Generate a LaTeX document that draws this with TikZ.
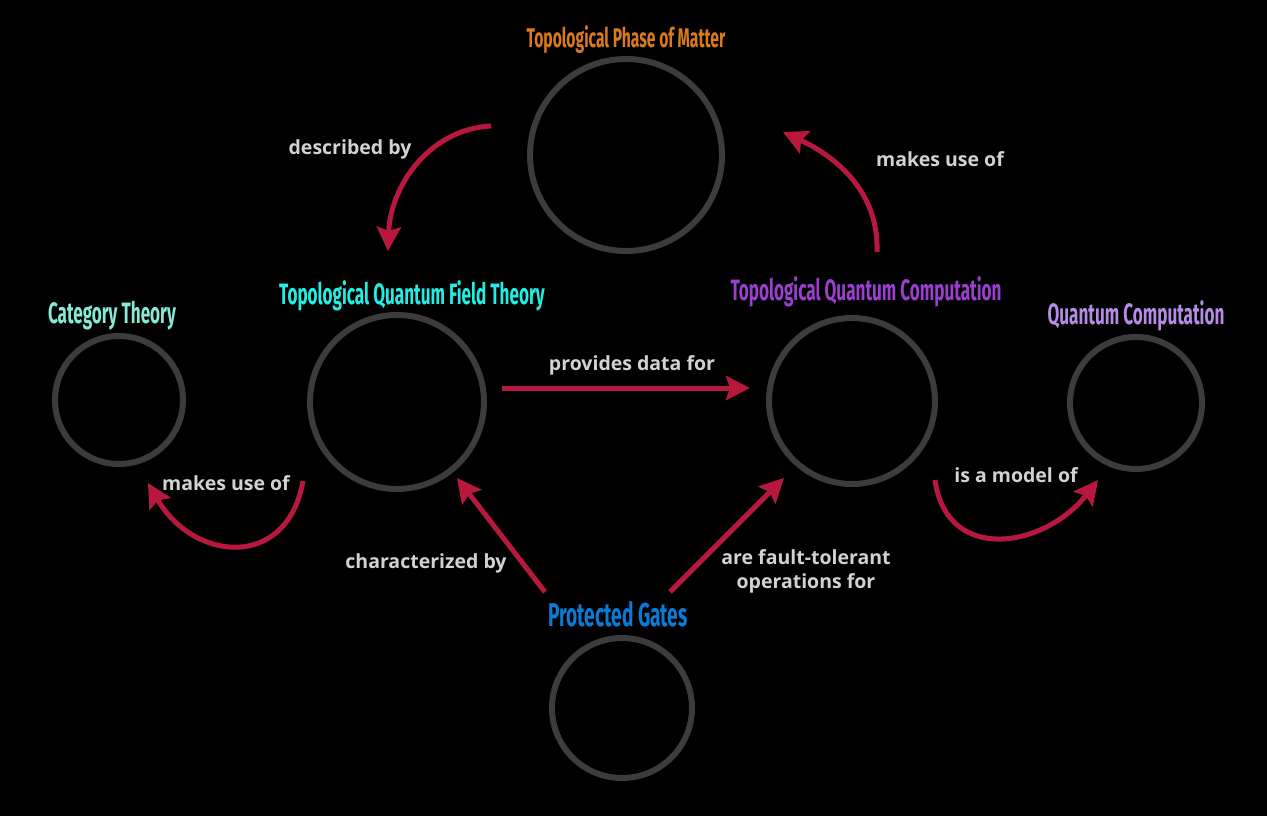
\documentclass[tikz,border=0pt]{standalone}
\usepackage{fontspec}
\setmainfont{Open Sans}
\newfontfamily\headfont{Fira Sans}[FakeStretch=0.58]
\usetikzlibrary{arrows.meta}
\definecolor{ringgray}{HTML}{3C3C3C}
\definecolor{linkred}{HTML}{B8183E}
\definecolor{labelgray}{HTML}{D2D2D2}
\definecolor{phaseorange}{HTML}{DB7A1C}
\definecolor{tqftcyan}{HTML}{22EEE4}
\definecolor{catmint}{HTML}{86EAD6}
\definecolor{tqcpurple}{HTML}{9B3FD0}
\definecolor{qcviolet}{HTML}{B68BE6}
\definecolor{gateblue}{HTML}{0A7BD6}

\begin{document}
\begin{tikzpicture}[
    x=1pt, y=-1pt,
    >={Stealth[length=24pt,width=24pt,inset=4pt]},
    ring/.style={circle, draw=ringgray, line width=6pt, inner sep=0pt, minimum size=#1},
    title/.style={font=\headfont\bfseries\fontsize{29.5}{32}\selectfont, text=#1},
    link/.style={->, draw=linkred, line width=5pt},
    linklabel/.style={font=\bfseries\fontsize{19.5}{24}\selectfont, text=labelgray, align=center}
]
    \useasboundingbox (0,0) rectangle (1267,816);
    \fill[black] (0,0) rectangle (1267,816);

    % concepts
    \node[ring=192] (phase) at (626,155) {};
    \node[ring=174] (tqft)  at (397,402) {};
    \node[ring=166] (tqc)   at (852,401) {};
    \node[ring=128] (cat)   at (119,400) {};
    \node[ring=132] (qc)    at (1136,403) {};
    \node[ring=140] (gates) at (622,708) {};

    \node[title=phaseorange, font=\headfont\bfseries\fontsize{27}{30}\selectfont]
        (phase-t) at (626,40) {Topological Phase of Matter};
    \node[title=tqftcyan]    (tqft-t)  at (412,296) {Topological Quantum Field Theory};
    \node[title=catmint]     (cat-t)   at (112,316) {Category Theory};
    \node[title=tqcpurple]   (tqc-t)   at (866,292) {Topological Quantum Computation};
    \node[title=qcviolet]    (qc-t)    at (1136,316) {Quantum Computation};
    \node[title=gateblue, font=\headfont\bfseries\fontsize{33}{36}\selectfont]
        (gates-t) at (618,614) {Protected Gates};

    % connector ends
    \coordinate (descr-s) at (491,126);
    \coordinate (descr-e) at (388,251);
    \coordinate (uses-s)  at (877,252);
    \coordinate (uses-e)  at (783,132);
    \coordinate (data-s)  at (502,388);
    \coordinate (data-e)  at (750,388);
    \coordinate (cat-s)   at (303,481);
    \coordinate (cat-e)   at (148,483);
    \coordinate (model-s) at (935,480);
    \coordinate (model-e) at (1098,480);
    \coordinate (char-s)  at (545,592);
    \coordinate (char-e)  at (457,478);
    \coordinate (ops-s)   at (670,592);
    \coordinate (ops-e)   at (784,478);

    \draw[link] (descr-s) to[out=183,in=88] (descr-e);
    \draw[link] (uses-s) to[out=88,in=-25] (uses-e);
    \draw[link] (data-s) -- (data-e);
    \draw[link] (cat-s) to[out=-100,in=-60,looseness=1.5] (cat-e);
    \draw[link] (model-s) to[out=-82,in=-128,looseness=1.35] (model-e);
    \draw[link] (char-s) -- (char-e);
    \draw[link] (ops-s) -- (ops-e);

    \node[linklabel] (descr-l) at (350,149) {described by};
    \node[linklabel] (uses-l)  at (940,159) {makes use of};
    \node[linklabel] (data-l)  at (632,365) {provides data for};
    \node[linklabel] (cat-l)   at (226,483) {makes use of};
    \node[linklabel] (model-l) at (1016,475) {is a model of};
    \node[linklabel] (char-l)  at (426,563) {characterized by};
    \node[linklabel] (ops-l)   at (806,571) {are fault-tolerant\\operations for};
\end{tikzpicture}
\end{document}
